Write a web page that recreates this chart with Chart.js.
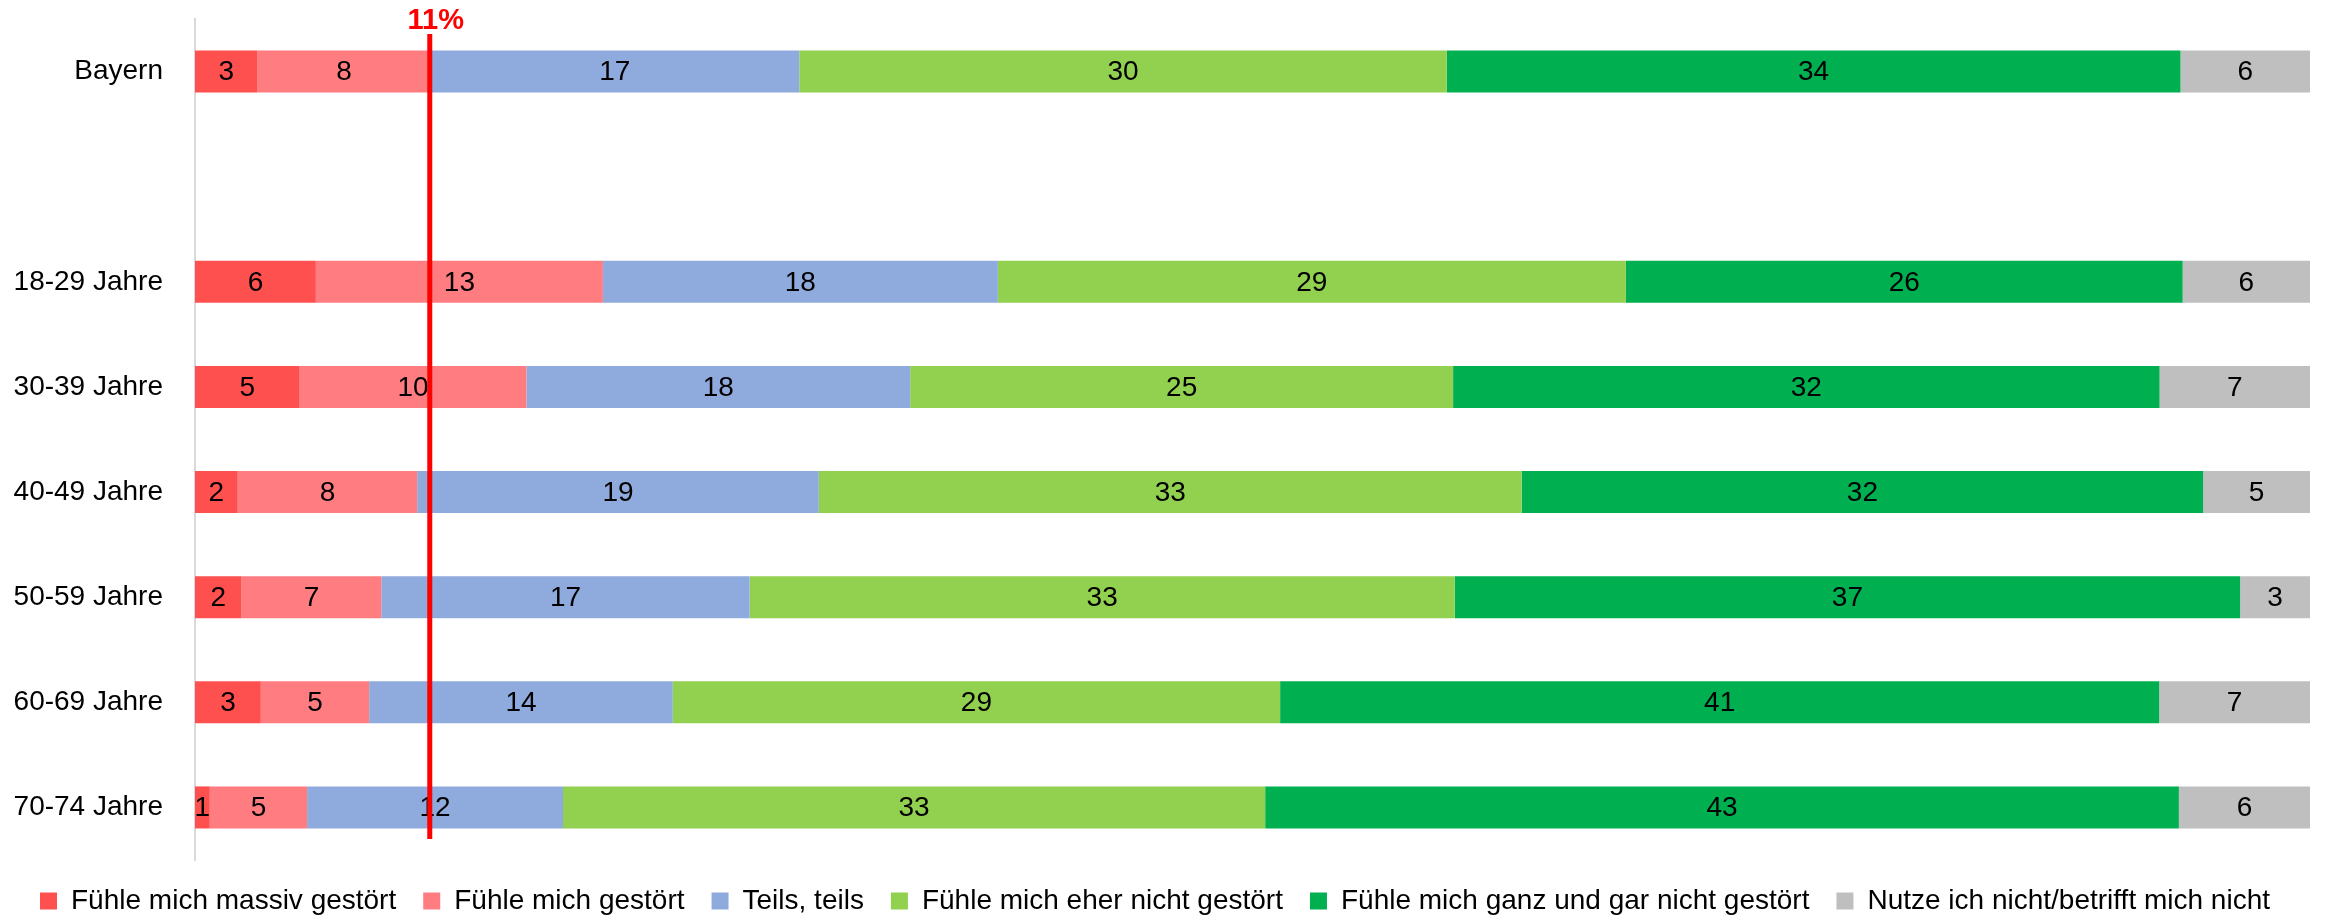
<!DOCTYPE html>
<html>
<head>
<meta charset="utf-8">
<script src="https://cdn.jsdelivr.net/npm/chart.js@4.4.1/dist/chart.umd.min.js"></script>
<style>
  html, body { margin: 0; padding: 0; background: #ffffff; }
  #wrap { width: 2328px; height: 917px; position: relative; }
</style>
</head>
<body>
<div id="wrap"><canvas id="chart"></canvas></div>
<script>
// ---- data (percent values; rows are drawn as 100% bars) ----
const categories = ['Bayern', '', '18-29 Jahre', '30-39 Jahre', '40-49 Jahre', '50-59 Jahre', '60-69 Jahre', '70-74 Jahre'];
const seriesNames = [
  'Fühle mich massiv gestört',
  'Fühle mich gestört',
  'Teils, teils',
  'Fühle mich eher nicht gestört',
  'Fühle mich ganz und gar nicht gestört',
  'Nutze ich nicht/betrifft mich nicht'
];
const massivGestoert    = [2.9, null, 5.6, 4.8, 2.0, 2.2, 3.1, 0.7];
const gestoert          = [8.0, null, 13.3, 10.4, 8.4, 6.6, 5.1, 4.6];
const teilsTeils        = [17.1, null, 18.3, 17.6, 18.8, 17.4, 14.3, 12.1];
const eherNichtGestoert = [30.0, null, 29.1, 24.9, 32.9, 33.3, 28.6, 33.2];
const garNichtGestoert  = [34.0, null, 25.8, 32.4, 31.9, 37.1, 41.4, 43.2];
const nutzeNicht        = [6.0, null, 5.9, 6.9, 5.0, 3.3, 7.1, 6.2];
const markerValue = 11.1;
const markerLabel = '11%';

// ---- styles ----
const seriesColors = ['#FF5050', '#FF7C80', '#8FAADC', '#92D050', '#00B050', '#BFBFBF'];
const FONT = '"Liberation Sans", Arial, sans-serif';

const seriesValues = [massivGestoert, gestoert, teilsTeils, eherNichtGestoert, garNichtGestoert, nutzeNicht];
const rowTotals = categories.map((_, i) => seriesValues.reduce((s, arr) => s + (arr[i] == null ? 0 : arr[i]), 0));

const datasets = seriesValues.map((arr, k) => ({
  label: seriesNames[k],
  data: arr.map((v, i) => (v == null ? null : v / rowTotals[i] * 100)),
  rawValues: arr,
  backgroundColor: seriesColors[k],
  borderWidth: 0,
  barPercentage: 0.4,
  categoryPercentage: 1.0
}));

const valueLabels = {
  id: 'valueLabels',
  afterDatasetsDraw(chart) {
    const ctx = chart.ctx;
    ctx.save();
    ctx.font = '28px ' + FONT;
    ctx.fillStyle = '#000000';
    ctx.textAlign = 'center';
    ctx.textBaseline = 'middle';
    chart.data.datasets.forEach((ds, k) => {
      const meta = chart.getDatasetMeta(k);
      meta.data.forEach((el, i) => {
        const v = ds.rawValues[i];
        if (v == null) return;
        ctx.fillText(String(Math.round(v)), (el.x + el.base) / 2, el.y + 1);
      });
    });
    ctx.restore();
  }
};

const markerLine = {
  id: 'markerLine',
  afterDatasetsDraw(chart) {
    const ctx = chart.ctx;
    const area = chart.chartArea;
    const x = chart.scales.x.getPixelForValue(markerValue);
    ctx.save();
    ctx.strokeStyle = '#FF0000';
    ctx.lineWidth = 5;
    ctx.beginPath();
    ctx.moveTo(x, area.top + 15);
    ctx.lineTo(x, area.bottom - 21);
    ctx.stroke();
    ctx.font = 'bold 29px ' + FONT;
    ctx.fillStyle = '#FF0000';
    ctx.textAlign = 'center';
    ctx.textBaseline = 'middle';
    ctx.fillText(markerLabel, x + 6, area.top + 2);
    ctx.restore();
  }
};

new Chart(document.getElementById('chart'), {
  type: 'bar',
  data: { labels: categories, datasets },
  plugins: [valueLabels, markerLine],
  options: {
    indexAxis: 'y',
    responsive: true,
    maintainAspectRatio: false,
    animation: false,
    events: [],
    layout: { padding: { top: 19, right: 18, left: 0, bottom: -8 } },
    scales: {
      x: {
        stacked: true,
        min: 0,
        max: 100,
        display: false
      },
      y: {
        stacked: true,
        grid: { display: false, drawTicks: true, tickLength: 32 },
        border: { display: true, color: '#D9D9D9', width: 2 },
        ticks: {
          padding: 0,
          color: '#000000',
          font: { family: FONT, size: 28 }
        },
        afterFit(scale) { scale.width = 195; }
      }
    },
    plugins: {
      legend: {
        position: 'bottom',
        labels: {
          boxWidth: 17,
          boxHeight: 17,
          padding: 27,
          color: '#000000',
          font: { family: FONT, size: 28 }
        }
      },
      tooltip: { enabled: false }
    }
  }
});
</script>
</body>
</html>
